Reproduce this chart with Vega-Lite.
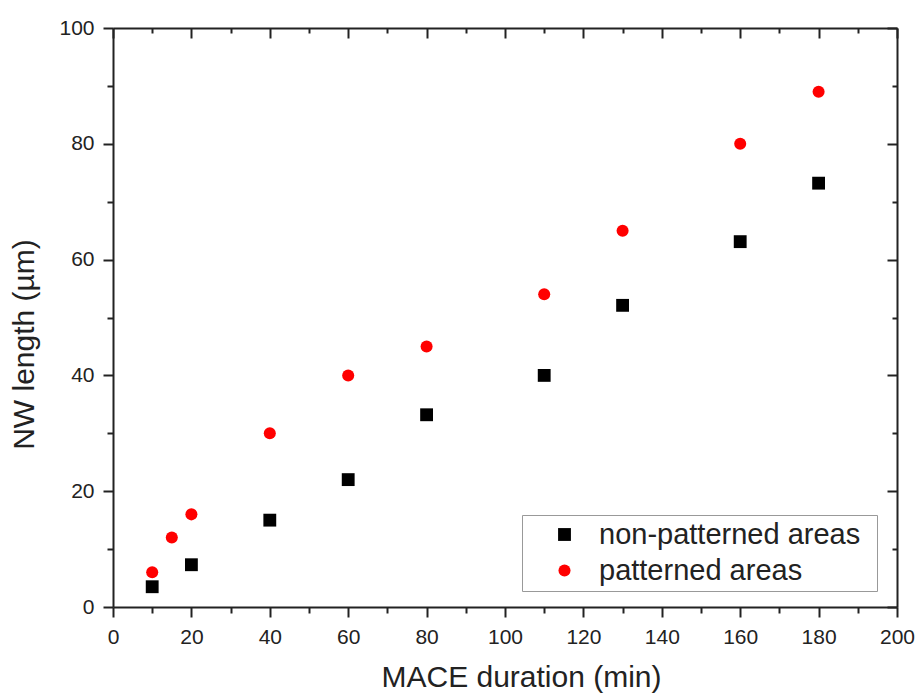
{
 "$schema": "https://vega.github.io/schema/vega-lite/v6.json",
 "width": 784, "height": 579,
 "autosize": {"type": "none"},
 "padding": {"left": 113, "top": 28, "right": 22, "bottom": 86},
 "background": "white",
 "config": {
  "view": {"stroke": null},
  "font": "Liberation Sans",
  "axis": {"grid": false, "domainColor": "#222", "domainWidth": 2, "tickColor": "#222", "tickWidth": 2,
   "labelColor": "#222", "titleColor": "#222", "labelFont": "Liberation Sans", "titleFont": "Liberation Sans",
   "labelFontSize": 21, "titleFontSize": 30, "titleFontWeight": "normal"}
 },
 "data": {"values": [
  {"t": 10, "len": 3.5, "series": "non-patterned areas"},
  {"t": 20, "len": 7.3, "series": "non-patterned areas"},
  {"t": 40, "len": 15, "series": "non-patterned areas"},
  {"t": 60, "len": 22, "series": "non-patterned areas"},
  {"t": 80, "len": 33.2, "series": "non-patterned areas"},
  {"t": 110, "len": 40, "series": "non-patterned areas"},
  {"t": 130, "len": 52.1, "series": "non-patterned areas"},
  {"t": 160, "len": 63.1, "series": "non-patterned areas"},
  {"t": 180, "len": 73.2, "series": "non-patterned areas"},
  {"t": 10, "len": 6, "series": "patterned areas"},
  {"t": 15, "len": 12, "series": "patterned areas"},
  {"t": 20, "len": 16, "series": "patterned areas"},
  {"t": 40, "len": 30, "series": "patterned areas"},
  {"t": 60, "len": 40, "series": "patterned areas"},
  {"t": 80, "len": 45, "series": "patterned areas"},
  {"t": 110, "len": 54, "series": "patterned areas"},
  {"t": 130, "len": 65, "series": "patterned areas"},
  {"t": 160, "len": 80, "series": "patterned areas"},
  {"t": 180, "len": 89, "series": "patterned areas"}
 ]},
 "layer": [
  {
   "mark": {"type": "point", "filled": true, "opacity": 1, "strokeWidth": 0},
   "encoding": {
    "x": {"field": "t", "type": "quantitative", "scale": {"domain": [0, 200], "nice": false},
     "axis": {"orient": "bottom", "title": "MACE duration (min)",
      "values": [0,10,20,30,40,50,60,70,80,90,100,110,120,130,140,150,160,170,180,190,200],
      "labelExpr": "datum.value % 20 === 0 ? datum.label : ''",
      "tickSize": {"condition": {"test": "datum.value % 20 !== 0", "value": 6}, "value": 10},
      "labelPadding": 9, "titlePadding": 15, "titleX": 408, "labelFlush": false}},
    "y": {"field": "len", "type": "quantitative", "scale": {"domain": [0, 100], "nice": false},
     "axis": {"orient": "left", "title": "NW length (µm)",
      "values": [0,10,20,30,40,50,60,70,80,90,100],
      "labelExpr": "datum.value % 20 === 0 ? datum.label : ''",
      "tickSize": {"condition": {"test": "datum.value % 20 !== 0", "value": 6}, "value": 10},
      "labelPadding": 9, "titlePadding": 19, "titleY": 316, "labelFlush": false}},
    "size": {"field": "series", "type": "nominal",
     "scale": {"domain": ["non-patterned areas", "patterned areas"], "range": [165, 145]}, "legend": null},
    "shape": {"field": "series", "type": "nominal",
     "scale": {"domain": ["non-patterned areas", "patterned areas"], "range": ["square", "circle"]},
     "legend": {"title": " ", "titleOrient": "right", "titlePadding": 12, "titleFontSize": 4,
      "orient": "none", "legendX": 409, "legendY": 487,
      "strokeColor": "#999", "fillColor": "white", "padding": 5, "labelFontSize": 29, "labelLimit": 500,
      "labelColor": "#222", "symbolSize": 130, "symbolOffset": 23, "labelOffset": 20, "rowPadding": 6,
      "symbolStrokeWidth": 0}},
    "color": {"field": "series", "type": "nominal",
     "scale": {"domain": ["non-patterned areas", "patterned areas"], "range": ["#000000", "#ff0000"]},
     "legend": {"title": " ", "titleOrient": "right", "titlePadding": 12, "titleFontSize": 4,
      "orient": "none", "legendX": 409, "legendY": 487,
      "strokeColor": "#999", "fillColor": "white", "padding": 5, "labelFontSize": 29, "labelLimit": 500,
      "labelColor": "#222", "symbolSize": 130, "symbolOffset": 23, "labelOffset": 20, "rowPadding": 6,
      "symbolStrokeWidth": 0}}
   }
  },
  {
   "mark": {"type": "point", "opacity": 0},
   "encoding": {
    "x": {"field": "t", "type": "quantitative", "scale": {"domain": [0, 200], "nice": false},
     "axis": {"orient": "top", "title": null, "labels": false,
      "values": [0,10,20,30,40,50,60,70,80,90,100,110,120,130,140,150,160,170,180,190,200],
      "tickSize": {"condition": {"test": "datum.value % 20 !== 0", "value": -5}, "value": -10}}},
    "y": {"field": "len", "type": "quantitative", "scale": {"domain": [0, 100], "nice": false},
     "axis": {"orient": "right", "title": null, "labels": false,
      "values": [0,10,20,30,40,50,60,70,80,90,100],
      "tickSize": {"condition": {"test": "datum.value % 20 !== 0", "value": -5}, "value": -10}}}
   }
  }
 ],
 "resolve": {"axis": {"x": "independent", "y": "independent"}}
}
